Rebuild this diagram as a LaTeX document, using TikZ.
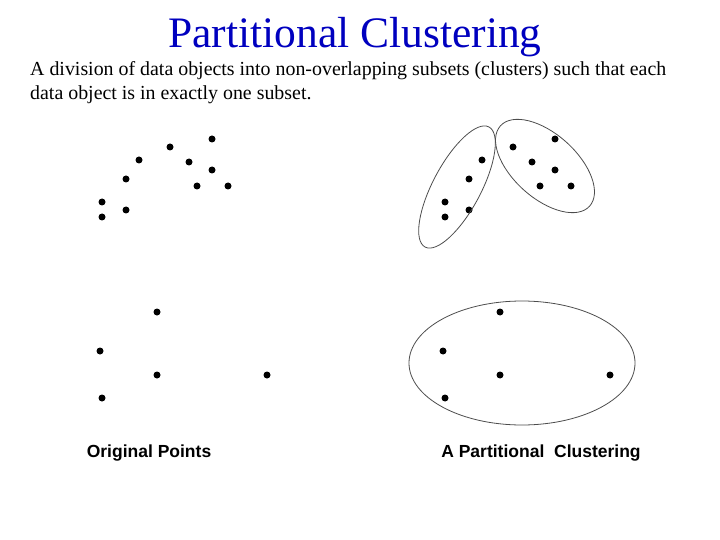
\documentclass[tikz,border=0pt]{standalone}
\usepackage{fontspec}
\setmainfont{Liberation Serif}
\newfontfamily\arialf{Liberation Sans}
\begin{document}
\begin{tikzpicture}[x=1pt,y=-1pt,
  pt/.style={circle,fill=black,inner sep=0pt,minimum size=7pt},
  lbl/.style={font=\arialf\bfseries\fontsize{17.5}{20}\selectfont},
  hull/.style={draw=black!70,line width=0.8pt}]
\useasboundingbox (0,0) rectangle (720,540);
\node[font=\fontsize{43.5}{48}\selectfont,text=blue!75!black] (title) at (355,37) {Partitional Clustering};
\node[anchor=north west,align=left,font=\fontsize{19.9}{24}\selectfont,inner sep=0pt] (desc) at (30,61)
 {A division of data objects into non-overlapping subsets (clusters) such that each\\data object is in exactly one subset.};
\foreach \x/\y [count=\i] in {212/139,170/147,139/160,189/162,212/170,126/179,197/186,228/186,102/202,126/210,102/217,157/312,100/351,157/375,267/375,102/398}{
  \node[pt] (l\i) at (\x,\y) {};
  \pgfmathsetmacro{\xx}{\x+343}
  \node[pt] (r\i) at (\xx,\y) {};
}
\draw[hull,rotate around={62:(457,187)}] (457,187) ellipse [x radius=68,y radius=24];
\draw[hull,rotate around={-42:(545,166)}] (545,166) ellipse [x radius=60,y radius=32];
\draw[hull] (522,363) ellipse [x radius=113,y radius=62];
\node[lbl] (lo) at (149,453) {Original Points};
\node[lbl] (lp) at (541,453) {A Partitional\ \ Clustering};
\end{tikzpicture}
\end{document}
